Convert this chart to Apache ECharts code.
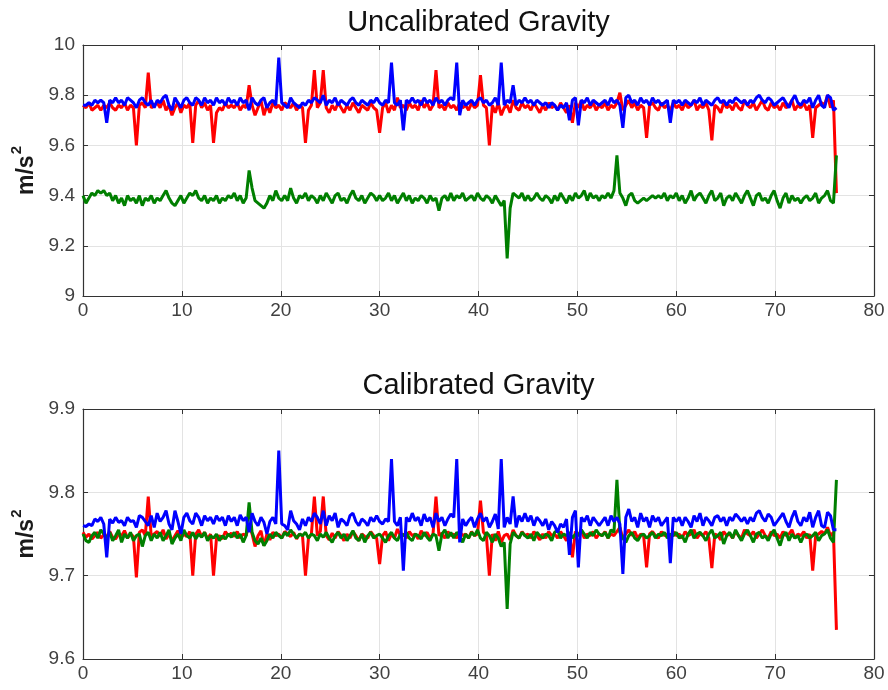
<!DOCTYPE html>
<html>
<head>
<meta charset="utf-8">
<script src="https://cdn.jsdelivr.net/npm/echarts@6/dist/echarts.min.js"></script>
<style>
  html, body { margin: 0; padding: 0; background: #fff; }
  #chart { width: 888px; height: 690px; }
</style>
</head>
<body>
<div id="chart"></div>
<script>
// sample spacing of the recording (s)
const STEP = 0.3;

const xTicks = [0, 10, 20, 30, 40, 50, 60, 70, 80];
const titles = ['Uncalibrated Gravity', 'Calibrated Gravity'];

// ---- uncalibrated ----
const redTop = [
  9.76, 9.75, 9.77, 9.74, 9.75, 9.76, 9.74, 9.76, 9.75, 9.77, 9.75, 9.74, 9.76, 9.75, 9.77, 9.74, 9.76, 9.75, 9.60, 9.76, 9.77, 9.75, 9.89, 9.75, 9.76,
  9.77, 9.75, 9.78, 9.74, 9.76, 9.72, 9.75, 9.77, 9.73, 9.76, 9.75, 9.77, 9.61, 9.76, 9.78, 9.75, 9.77, 9.74, 9.76, 9.61, 9.73, 9.75, 9.74, 9.77, 9.75,
  9.76, 9.75, 9.77, 9.74, 9.76, 9.75, 9.84, 9.76, 9.72, 9.75, 9.78, 9.72, 9.76, 9.73, 9.77, 9.75, 9.76, 9.74, 9.77, 9.76, 9.75, 9.77, 9.74, 9.76, 9.75,
  9.61, 9.74, 9.76, 9.90, 9.75, 9.77, 9.90, 9.75, 9.73, 9.76, 9.74, 9.77, 9.75, 9.73, 9.76, 9.74, 9.77, 9.75, 9.73, 9.76, 9.75, 9.74, 9.77, 9.75, 9.74,
  9.65, 9.75, 9.77, 9.73, 9.76, 9.74, 9.79, 9.75, 9.76, 9.74, 9.77, 9.75, 9.76, 9.74, 9.78, 9.75, 9.77, 9.74, 9.76, 9.90, 9.75, 9.76, 9.74, 9.77, 9.75,
  9.76, 9.74, 9.77, 9.75, 9.76, 9.74, 9.77, 9.75, 9.76, 9.88, 9.76, 9.75, 9.60, 9.76, 9.73, 9.77, 9.72, 9.75, 9.76, 9.73, 9.78, 9.75, 9.74, 9.77, 9.75,
  9.76, 9.74, 9.77, 9.75, 9.73, 9.76, 9.74, 9.77, 9.75, 9.76, 9.74, 9.77, 9.75, 9.73, 9.76, 9.69, 9.77, 9.75, 9.78, 9.74, 9.76, 9.75, 9.77, 9.74, 9.76,
  9.75, 9.77, 9.74, 9.76, 9.75, 9.77, 9.81, 9.74, 9.76, 9.78, 9.75, 9.77, 9.74, 9.76, 9.75, 9.63, 9.76, 9.77, 9.75, 9.74, 9.77, 9.75, 9.76, 9.74, 9.77,
  9.75, 9.76, 9.74, 9.77, 9.75, 9.76, 9.78, 9.74, 9.76, 9.75, 9.77, 9.74, 9.62, 9.76, 9.75, 9.73, 9.77, 9.75, 9.76, 9.74, 9.77, 9.75, 9.74, 9.78, 9.76,
  9.75, 9.77, 9.74, 9.76, 9.78, 9.75, 9.74, 9.77, 9.75, 9.76, 9.74, 9.77, 9.75, 9.76, 9.78, 9.74, 9.76, 9.75, 9.77, 9.74, 9.76, 9.63, 9.75, 9.76, 9.77,
  9.76, 9.80, 9.75, 9.78, 9.41
];
const greenTop = [
  9.40, 9.37, 9.39, 9.41, 9.40, 9.42, 9.41, 9.42, 9.40, 9.41, 9.38, 9.40, 9.37, 9.39, 9.36, 9.40, 9.38, 9.39, 9.37, 9.40, 9.36, 9.39, 9.38, 9.40, 9.37,
  9.39, 9.38, 9.40, 9.42, 9.39, 9.37, 9.36, 9.38, 9.40, 9.37, 9.39, 9.41, 9.40, 9.42, 9.39, 9.38, 9.40, 9.37, 9.39, 9.38, 9.40, 9.37, 9.39, 9.38, 9.40,
  9.39, 9.41, 9.38, 9.40, 9.37, 9.39, 9.50, 9.43, 9.38, 9.37, 9.36, 9.35, 9.37, 9.40, 9.38, 9.42, 9.39, 9.38, 9.40, 9.38, 9.43, 9.39, 9.37, 9.40, 9.39,
  9.41, 9.38, 9.40, 9.39, 9.37, 9.40, 9.38, 9.41, 9.39, 9.37, 9.40, 9.41, 9.38, 9.39, 9.37, 9.40, 9.42, 9.39, 9.38, 9.40, 9.37, 9.39, 9.41, 9.40, 9.38,
  9.40, 9.38, 9.39, 9.41, 9.38, 9.40, 9.37, 9.39, 9.41, 9.38, 9.40, 9.37, 9.39, 9.38, 9.40, 9.39, 9.37, 9.40, 9.38, 9.39, 9.34, 9.39, 9.40, 9.38, 9.41,
  9.38, 9.40, 9.39, 9.41, 9.38, 9.39, 9.40, 9.38, 9.41, 9.39, 9.38, 9.40, 9.39, 9.37, 9.40, 9.38, 9.36, 9.38, 9.15, 9.35, 9.41, 9.40, 9.39, 9.41, 9.38,
  9.40, 9.38, 9.39, 9.41, 9.39, 9.38, 9.40, 9.39, 9.37, 9.40, 9.38, 9.41, 9.39, 9.37, 9.40, 9.38, 9.41, 9.39, 9.40, 9.42, 9.38, 9.41, 9.39, 9.40, 9.38,
  9.40, 9.39, 9.41, 9.39, 9.42, 9.56, 9.41, 9.39, 9.36, 9.40, 9.41, 9.38, 9.37, 9.38, 9.39, 9.38, 9.39, 9.40, 9.39, 9.40, 9.39, 9.41, 9.38, 9.40, 9.39,
  9.41, 9.38, 9.40, 9.37, 9.39, 9.42, 9.38, 9.40, 9.41, 9.39, 9.37, 9.40, 9.42, 9.38, 9.39, 9.41, 9.36, 9.39, 9.40, 9.38, 9.41, 9.39, 9.37, 9.40, 9.42,
  9.39, 9.36, 9.40, 9.41, 9.38, 9.39, 9.37, 9.40, 9.42, 9.38, 9.35, 9.39, 9.41, 9.37, 9.40, 9.38, 9.39, 9.37, 9.39, 9.40, 9.38, 9.39, 9.41, 9.37, 9.39,
  9.40, 9.42, 9.38, 9.37, 9.56
];
const blueTop = [
  9.76, 9.76, 9.77, 9.76, 9.78, 9.77, 9.78, 9.77, 9.69, 9.78, 9.77, 9.79, 9.77, 9.78, 9.76, 9.79, 9.78, 9.77, 9.75, 9.78, 9.79, 9.77, 9.76, 9.78, 9.75,
  9.78, 9.77, 9.79, 9.80, 9.76, 9.74, 9.79, 9.77, 9.75, 9.78, 9.79, 9.77, 9.76, 9.79, 9.78, 9.76, 9.79, 9.77, 9.78, 9.76, 9.79, 9.77, 9.78, 9.76, 9.79,
  9.77, 9.78, 9.76, 9.79, 9.77, 9.78, 9.74, 9.79, 9.77, 9.76, 9.78, 9.79, 9.75, 9.77, 9.78, 9.76, 9.95, 9.77, 9.76, 9.75, 9.79, 9.77, 9.76, 9.75, 9.77,
  9.76, 9.78, 9.77, 9.79, 9.78, 9.77, 9.80, 9.76, 9.78, 9.77, 9.79, 9.76, 9.78, 9.77, 9.76, 9.78, 9.79, 9.77, 9.76, 9.78, 9.77, 9.76, 9.78, 9.77, 9.79,
  9.77, 9.76, 9.78, 9.77, 9.93, 9.77, 9.76, 9.78, 9.66, 9.78, 9.77, 9.79, 9.77, 9.78, 9.76, 9.79, 9.77, 9.78, 9.76, 9.79, 9.77, 9.78, 9.76, 9.78, 9.79,
  9.78, 9.93, 9.72, 9.78, 9.76, 9.77, 9.78, 9.76, 9.78, 9.79, 9.77, 9.78, 9.76, 9.77, 9.79, 9.76, 9.93, 9.76, 9.78, 9.77, 9.84, 9.76, 9.78, 9.77, 9.79,
  9.77, 9.78, 9.76, 9.78, 9.77, 9.76, 9.77, 9.75, 9.77, 9.76, 9.74, 9.76, 9.75, 9.77, 9.70, 9.78, 9.79, 9.68, 9.78, 9.77, 9.79, 9.76, 9.78, 9.77, 9.76,
  9.77, 9.78, 9.76, 9.79, 9.77, 9.78, 9.76, 9.67, 9.79, 9.80, 9.77, 9.78, 9.76, 9.79, 9.77, 9.78, 9.76, 9.79, 9.77, 9.78, 9.76, 9.77, 9.78, 9.69, 9.78,
  9.77, 9.78, 9.76, 9.78, 9.77, 9.76, 9.78, 9.77, 9.79, 9.76, 9.78, 9.77, 9.76, 9.78, 9.79, 9.77, 9.78, 9.76, 9.78, 9.77, 9.79, 9.78, 9.77, 9.78, 9.76,
  9.78, 9.77, 9.79, 9.80, 9.78, 9.77, 9.79, 9.78, 9.76, 9.77, 9.78, 9.79, 9.77, 9.75, 9.78, 9.80, 9.77, 9.76, 9.78, 9.77, 9.79, 9.75, 9.78, 9.80, 9.76,
  9.75, 9.80, 9.79, 9.74, 9.75
];

// ---- calibrated ----
const redBot = [
  9.752, 9.746, 9.750, 9.744, 9.748, 9.752, 9.745, 9.749, 9.747, 9.753, 9.746, 9.744, 9.750, 9.748, 9.754, 9.745, 9.750, 9.747, 9.698, 9.752, 9.755, 9.748, 9.795, 9.747, 9.750,
  9.753, 9.747, 9.755, 9.744, 9.750, 9.742, 9.748, 9.754, 9.745, 9.750, 9.747, 9.753, 9.700, 9.750, 9.755, 9.747, 9.752, 9.744, 9.750, 9.700, 9.745, 9.748, 9.744, 9.753, 9.748,
  9.751, 9.747, 9.753, 9.745, 9.750, 9.748, 9.762, 9.750, 9.735, 9.748, 9.754, 9.736, 9.750, 9.743, 9.752, 9.748, 9.750, 9.745, 9.753, 9.750, 9.747, 9.752, 9.744, 9.750, 9.748,
  9.700, 9.745, 9.750, 9.795, 9.748, 9.753, 9.795, 9.748, 9.743, 9.751, 9.745, 9.753, 9.748, 9.742, 9.750, 9.745, 9.753, 9.748, 9.742, 9.750, 9.747, 9.745, 9.753, 9.748, 9.745,
  9.714, 9.748, 9.753, 9.742, 9.750, 9.745, 9.756, 9.748, 9.750, 9.745, 9.753, 9.748, 9.750, 9.744, 9.754, 9.748, 9.752, 9.745, 9.750, 9.795, 9.748, 9.751, 9.745, 9.753, 9.748,
  9.750, 9.745, 9.753, 9.748, 9.750, 9.745, 9.753, 9.748, 9.750, 9.790, 9.752, 9.748, 9.700, 9.750, 9.742, 9.753, 9.740, 9.748, 9.750, 9.743, 9.755, 9.748, 9.745, 9.753, 9.748,
  9.750, 9.745, 9.753, 9.748, 9.743, 9.750, 9.745, 9.753, 9.748, 9.750, 9.745, 9.753, 9.748, 9.742, 9.750, 9.722, 9.753, 9.748, 9.755, 9.745, 9.750, 9.748, 9.753, 9.745, 9.750,
  9.748, 9.753, 9.745, 9.750, 9.748, 9.753, 9.758, 9.745, 9.750, 9.755, 9.748, 9.753, 9.745, 9.750, 9.748, 9.710, 9.750, 9.753, 9.748, 9.745, 9.753, 9.748, 9.750, 9.745, 9.753,
  9.748, 9.750, 9.745, 9.753, 9.748, 9.750, 9.755, 9.745, 9.750, 9.748, 9.753, 9.745, 9.709, 9.750, 9.748, 9.743, 9.753, 9.748, 9.750, 9.745, 9.753, 9.748, 9.745, 9.755, 9.750,
  9.748, 9.753, 9.745, 9.750, 9.755, 9.748, 9.745, 9.753, 9.748, 9.750, 9.745, 9.753, 9.748, 9.750, 9.755, 9.745, 9.750, 9.748, 9.753, 9.745, 9.750, 9.706, 9.748, 9.750, 9.753,
  9.750, 9.758, 9.748, 9.752, 9.635
];
const greenBot = [
  9.750, 9.742, 9.740, 9.748, 9.752, 9.745, 9.755, 9.750, 9.745, 9.752, 9.742, 9.748, 9.755, 9.740, 9.750, 9.745, 9.752, 9.742, 9.748, 9.750, 9.735, 9.748, 9.752, 9.742, 9.750,
  9.745, 9.752, 9.742, 9.748, 9.755, 9.738, 9.745, 9.750, 9.742, 9.755, 9.748, 9.745, 9.752, 9.744, 9.750, 9.746, 9.752, 9.742, 9.748, 9.745, 9.750, 9.742, 9.748, 9.744, 9.750,
  9.746, 9.752, 9.745, 9.750, 9.740, 9.748, 9.788, 9.752, 9.742, 9.738, 9.745, 9.736, 9.742, 9.750, 9.745, 9.752, 9.748, 9.745, 9.752, 9.748, 9.755, 9.750, 9.745, 9.750, 9.748,
  9.752, 9.745, 9.750, 9.748, 9.742, 9.750, 9.746, 9.752, 9.745, 9.740, 9.748, 9.752, 9.745, 9.750, 9.742, 9.748, 9.754, 9.745, 9.742, 9.750, 9.740, 9.748, 9.752, 9.745, 9.748,
  9.750, 9.745, 9.740, 9.748, 9.752, 9.745, 9.742, 9.750, 9.748, 9.752, 9.745, 9.742, 9.750, 9.748, 9.744, 9.752, 9.746, 9.742, 9.750, 9.748, 9.730, 9.750, 9.755, 9.745, 9.752,
  9.745, 9.752, 9.748, 9.740, 9.750, 9.745, 9.752, 9.748, 9.755, 9.745, 9.742, 9.752, 9.748, 9.740, 9.750, 9.745, 9.735, 9.740, 9.660, 9.738, 9.752, 9.748, 9.745, 9.752, 9.748,
  9.745, 9.750, 9.742, 9.752, 9.748, 9.745, 9.750, 9.748, 9.742, 9.752, 9.755, 9.745, 9.750, 9.748, 9.752, 9.745, 9.750, 9.748, 9.755, 9.750, 9.745, 9.752, 9.748, 9.755, 9.750,
  9.748, 9.752, 9.745, 9.755, 9.752, 9.815, 9.752, 9.745, 9.740, 9.748, 9.752, 9.745, 9.742, 9.748, 9.750, 9.745, 9.748, 9.752, 9.745, 9.750, 9.748, 9.752, 9.745, 9.750, 9.748,
  9.752, 9.745, 9.748, 9.740, 9.750, 9.755, 9.745, 9.750, 9.752, 9.748, 9.742, 9.750, 9.755, 9.745, 9.748, 9.752, 9.738, 9.748, 9.752, 9.745, 9.755, 9.748, 9.742, 9.750, 9.755,
  9.748, 9.740, 9.750, 9.752, 9.745, 9.748, 9.742, 9.750, 9.755, 9.745, 9.736, 9.748, 9.752, 9.742, 9.750, 9.745, 9.748, 9.740, 9.748, 9.750, 9.745, 9.748, 9.752, 9.742, 9.748,
  9.750, 9.755, 9.745, 9.740, 9.815
];
const blueBot = [
  9.760, 9.759, 9.762, 9.760, 9.768, 9.765, 9.770, 9.762, 9.722, 9.768, 9.763, 9.770, 9.764, 9.766, 9.760, 9.770, 9.765, 9.766, 9.758, 9.772, 9.770, 9.765, 9.760, 9.772, 9.758,
  9.775, 9.765, 9.770, 9.778, 9.762, 9.755, 9.778, 9.765, 9.750, 9.770, 9.775, 9.766, 9.762, 9.775, 9.770, 9.760, 9.772, 9.766, 9.770, 9.762, 9.772, 9.766, 9.770, 9.760, 9.772,
  9.765, 9.770, 9.760, 9.773, 9.766, 9.770, 9.752, 9.775, 9.765, 9.760, 9.770, 9.764, 9.750, 9.765, 9.770, 9.762, 9.850, 9.762, 9.760, 9.755, 9.778, 9.766, 9.762, 9.755, 9.768,
  9.760, 9.770, 9.765, 9.775, 9.770, 9.762, 9.778, 9.760, 9.772, 9.766, 9.775, 9.758, 9.768, 9.765, 9.760, 9.772, 9.775, 9.765, 9.760, 9.768, 9.765, 9.760, 9.770, 9.765, 9.772,
  9.765, 9.762, 9.768, 9.765, 9.840, 9.765, 9.760, 9.770, 9.706, 9.770, 9.765, 9.775, 9.766, 9.770, 9.760, 9.774, 9.765, 9.770, 9.758, 9.775, 9.765, 9.770, 9.760, 9.768, 9.774,
  9.770, 9.840, 9.740, 9.768, 9.760, 9.766, 9.770, 9.758, 9.768, 9.775, 9.765, 9.770, 9.758, 9.765, 9.774, 9.756, 9.840, 9.758, 9.770, 9.762, 9.795, 9.758, 9.772, 9.765, 9.775,
  9.765, 9.772, 9.760, 9.770, 9.766, 9.760, 9.768, 9.755, 9.765, 9.760, 9.752, 9.762, 9.758, 9.768, 9.725, 9.770, 9.778, 9.710, 9.770, 9.765, 9.772, 9.760, 9.770, 9.765, 9.760,
  9.765, 9.770, 9.760, 9.772, 9.765, 9.770, 9.762, 9.702, 9.770, 9.780, 9.765, 9.770, 9.758, 9.775, 9.765, 9.770, 9.758, 9.772, 9.765, 9.770, 9.760, 9.765, 9.770, 9.715, 9.770,
  9.765, 9.770, 9.760, 9.770, 9.765, 9.758, 9.772, 9.765, 9.775, 9.760, 9.770, 9.766, 9.760, 9.770, 9.772, 9.765, 9.770, 9.760, 9.770, 9.766, 9.774, 9.770, 9.765, 9.770, 9.762,
  9.770, 9.765, 9.775, 9.778, 9.770, 9.765, 9.774, 9.770, 9.760, 9.765, 9.770, 9.775, 9.765, 9.758, 9.770, 9.778, 9.765, 9.760, 9.770, 9.765, 9.776, 9.758, 9.770, 9.778, 9.760,
  9.758, 9.776, 9.772, 9.755, 9.755
];

const RED = '#ff0000', GREEN = '#007f00', BLUE = '#0000ff';
const AXIS = '#333333', GRIDLINE = '#e3e3e3', LABEL = '#404040';
const FONT = 'Liberation Sans, Arial, sans-serif';

function pairs(ys) {
  return ys.map((y, i) => [+(i * STEP).toFixed(1), y]);
}

function xAx(grid, top) {
  return {
    type: 'value', gridIndex: grid, position: top ? 'top' : 'bottom',
    min: xTicks[0], max: xTicks[xTicks.length - 1], interval: 10,
    axisLine: { show: true, onZero: false, lineStyle: { color: AXIS, width: 1.2 } },
    axisTick: { show: true, inside: true, length: 5, lineStyle: { color: AXIS } },
    axisLabel: { show: !top, color: LABEL, fontSize: 19, fontFamily: FONT, margin: 5 },
    splitLine: { show: !top, lineStyle: { color: GRIDLINE, width: 1 } }
  };
}

function yAx(grid, right, min, max, step) {
  return {
    type: 'value', gridIndex: grid, position: right ? 'right' : 'left',
    min: min, max: max, interval: step,
    name: right ? '' : 'm/s{sup|2}',
    nameLocation: 'middle', nameGap: 40, nameRotate: 90,
    nameTextStyle: {
      color: '#1a1a1a', fontSize: 23, fontWeight: 'bold', fontFamily: FONT,
      rich: { sup: { fontSize: 15, fontWeight: 'bold', fontFamily: FONT, color: '#1a1a1a', padding: [0, 0, 18, 1] } }
    },
    axisLine: { show: true, onZero: false, lineStyle: { color: AXIS, width: 1.2 } },
    axisTick: { show: true, inside: true, length: 5, lineStyle: { color: AXIS } },
    axisLabel: { show: !right, color: LABEL, fontSize: 19, fontFamily: FONT, margin: 8,
      formatter: v => String(+v.toFixed(2)) },
    splitLine: { show: !right, lineStyle: { color: GRIDLINE, width: 1 } }
  };
}

function line(name, color, ys, grid) {
  return {
    name: name, type: 'line', xAxisIndex: grid * 2, yAxisIndex: grid * 2,
    data: pairs(ys), showSymbol: false, symbol: 'none',
    lineStyle: { color: color, width: 3 }, itemStyle: { color: color },
    clip: true
  };
}

const chart = echarts.init(document.getElementById('chart'), null, { renderer: 'canvas' });
chart.setOption({
  animation: false,
  backgroundColor: '#fff',
  grid: [
    { left: 83, right: 14, top: 45, height: 251 },
    { left: 83, right: 14, top: 409, height: 250 }
  ],
  graphic: [
    { type: 'text', x: 478.5, y: 23, style: { text: titles[0], fill: '#111', fontSize: 29, fontFamily: FONT, textAlign: 'center', textVerticalAlign: 'middle' } },
    { type: 'text', x: 478.5, y: 386, style: { text: titles[1], fill: '#111', fontSize: 29, fontFamily: FONT, textAlign: 'center', textVerticalAlign: 'middle' } }
  ],
  xAxis: [xAx(0, false), xAx(0, true), xAx(1, false), xAx(1, true)],
  yAxis: [
    yAx(0, false, 9, 10, 0.2), yAx(0, true, 9, 10, 0.2),
    yAx(1, false, 9.6, 9.9, 0.1), yAx(1, true, 9.6, 9.9, 0.1)
  ],
  series: [
    line('x', RED, redTop, 0),
    line('y', GREEN, greenTop, 0),
    line('z', BLUE, blueTop, 0),
    line('x', RED, redBot, 1),
    line('y', GREEN, greenBot, 1),
    line('z', BLUE, blueBot, 1)
  ]
});
</script>
</body>
</html>
